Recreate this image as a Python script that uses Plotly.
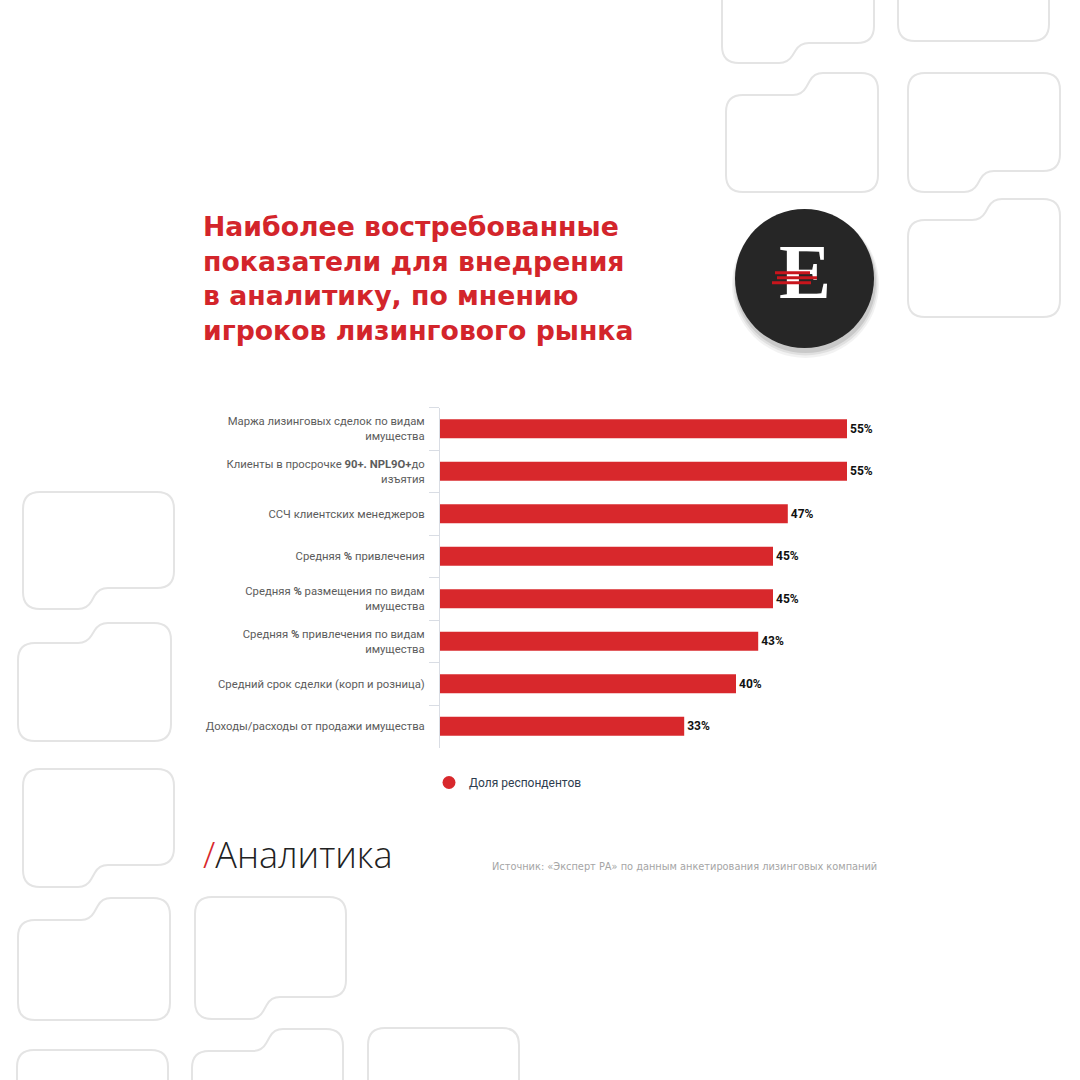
import plotly.graph_objects as go

# ---------------- data ----------------
categories = [
    "Маржа лизинговых сделок по видам<br>имущества",
    "Клиенты в просрочке <b>90+. NPL9O+</b>до<br>изъятия",
    "ССЧ клиентских менеджеров",
    "Средняя <b>%</b> привлечения",
    "Средняя <b>%</b> размещения по видам<br>имущества",
    "Средняя <b>%</b> привлечения по видам<br>имущества",
    "Средний срок сделки (корп и розница)",
    "Доходы/расходы от продажи имущества",
]
values = [55, 55, 47, 45, 45, 43, 40, 33]
series_name = "Доля респондентов"
title_lines = [
    "Наиболее востребованные",
    "показатели для внедрения",
    "в аналитику, по мнению",
    "игроков лизингового рынка",
]
brand_text = "Аналитика"
logo_letter = "E"
source_text = "Источник: «Эксперт РА» по данным анкетирования лизинговых компаний"

W = H = 1080
RED = "#d8282c"


def px(x):
    return x / W


def py(y):
    return 1 - y / H


# ---------------- decorative background shapes ----------------
def rounded_path(pts, radii):
    n = len(pts)
    out = []
    for i in range(n):
        p = pts[i]
        prv = pts[i - 1]
        nxt = pts[(i + 1) % n]
        vin = (p[0] - prv[0], p[1] - prv[1])
        vout = (nxt[0] - p[0], nxt[1] - p[1])
        lin = (vin[0] ** 2 + vin[1] ** 2) ** 0.5
        lout = (vout[0] ** 2 + vout[1] ** 2) ** 0.5
        r = min(radii[i], lin / 2, lout / 2)
        a = (p[0] - vin[0] / lin * r, p[1] - vin[1] / lin * r)
        b = (p[0] + vout[0] / lout * r, p[1] + vout[1] / lout * r)
        cmd = "M" if i == 0 else "L"
        out.append(f"{cmd}{px(a[0]):.5f},{py(a[1]):.5f}")
        out.append(f"Q{px(p[0]):.5f},{py(p[1]):.5f} {px(b[0]):.5f},{py(b[1]):.5f}")
    out.append("Z")
    return " ".join(out)


def tab_shape(x0, x1, ytl, ytr, ybl, ybr, xs=None, d=6, r=17, rs=9):
    pts, rad = [], []
    pts.append((x0, ytl)); rad.append(r)
    if ytl != ytr:
        pts += [(xs - d, ytl), (xs + d, ytr)]; rad += [rs, rs]
    pts.append((x1, ytr)); rad.append(r)
    pts.append((x1, ybr)); rad.append(r)
    if ybl != ybr:
        pts += [(xs + d, ybr), (xs - d, ybl)]; rad += [rs, rs]
    pts.append((x0, ybl)); rad.append(r)
    return rounded_path(pts, rad)


bg_shapes = [
    (722, 874, -100, -100, 63, 43, 794),
    (898, 1049, -100, -100, 41, 41, None),
    (726, 878, 95, 73, 192, 192, 808),
    (908, 1060, 73, 73, 192, 171, 979),
    (908, 1060, 220, 199, 317, 317, 987),
    (23, 174, 492, 492, 609, 588, 93),
    (18, 171, 643, 623, 741, 741, 93),
    (23, 174, 769, 769, 887, 865, 93),
    (18, 170, 920, 898, 1020, 1020, 96),
    (195, 346, 897, 897, 1019, 997, 265),
    (17, 168, 1050, 1050, 1200, 1200, None),
    (192, 343, 1051, 1029, 1200, 1200, 268),
    (368, 519, 1028, 1028, 1200, 1200, None),
]

shapes = []
for (x0, x1, ytl, ytr, ybl, ybr, xs) in bg_shapes:
    shapes.append(dict(
        type="path", xref="paper", yref="paper", layer="below",
        path=tab_shape(x0, x1, ytl, ytr, ybl, ybr, xs),
        line=dict(color="#e4e4e4", width=2), fillcolor="rgba(0,0,0,0)",
    ))

# ---------------- logo ----------------
cx, cy, cr = 804.5, 278.5, 69.5
for (dx, dy, extra, op) in [(1, 6, 4, 0.05), (1, 5, 2.5, 0.07), (1, 4, 1, 0.10)]:
    shapes.append(dict(
        type="circle", xref="paper", yref="paper", layer="below",
        x0=px(cx + dx - cr - extra), x1=px(cx + dx + cr + extra),
        y0=py(cy + dy + cr + extra), y1=py(cy + dy - cr - extra),
        fillcolor=f"rgba(0,0,0,{op})", line=dict(width=0),
    ))
shapes.append(dict(
    type="circle", xref="paper", yref="paper", layer="below",
    x0=px(cx - cr), x1=px(cx + cr), y0=py(cy + cr), y1=py(cy - cr),
    fillcolor="#262626", line=dict(width=0),
))
# red stripes across the logo letter (drawn above traces)
for (x0, x1, yy) in [(775, 810, 272.7), (777, 817, 277.7), (772, 811, 282.7)]:
    shapes.append(dict(
        type="line", xref="paper", yref="paper", layer="above",
        x0=px(x0), x1=px(x1), y0=py(yy), y1=py(yy),
        line=dict(color="#c8151c", width=3),
    ))

fig = go.Figure()

fig.add_trace(go.Bar(
    x=values, y=categories, orientation="h",
    marker=dict(color=RED, line=dict(width=0)),
    texttemplate="<b>%{x}%</b>", textposition="outside",
    textfont=dict(family="Roboto", size=12, color="#111111"),
    cliponaxis=False, showlegend=False, hoverinfo="skip",
))
fig.add_trace(go.Scatter(
    x=[None], y=[None], mode="markers", name=series_name,
    marker=dict(symbol="circle", size=13, color=RED),
    showlegend=True,
))
# logo letter as text mark on a pixel overlay axis
fig.add_trace(go.Scatter(
    x=[805], y=[278], mode="text", text=[logo_letter],
    textposition="middle center",
    textfont=dict(family="Liberation Serif", size=78, color="#ffffff", weight="bold"),
    xaxis="x2", yaxis="y2", showlegend=False, hoverinfo="skip",
    cliponaxis=False,
))

annotations = [
    dict(
        text="<br>".join(title_lines), x=px(201), y=py(209),
        xref="paper", yref="paper", xanchor="left", yanchor="top",
        align="left", showarrow=False,
        font=dict(family="DejaVu Sans", size=26.7, color="#d3252b", weight="bold"),
    ),
    dict(
        text=f"<span style='color:{RED}'>/</span>{brand_text}",
        x=px(201), y=py(854), xref="paper", yref="paper",
        xanchor="left", yanchor="middle", showarrow=False,
        font=dict(family="Open Sans", size=36, color="#222222", weight=300),
    ),
    dict(
        text=source_text, x=px(879), y=py(866), xref="paper", yref="paper",
        xanchor="right", yanchor="middle", showarrow=False,
        font=dict(family="DejaVu Sans", size=9.8, color="#a5a5a5"),
    ),
]

fig.update_layout(
    width=W, height=H,
    margin=dict(l=0, r=0, t=0, b=0),
    paper_bgcolor="#ffffff", plot_bgcolor="rgba(0,0,0,0)",
    bargap=0.55,
    xaxis=dict(
        domain=[px(440), px(884)], range=[0, 60],
        visible=False, fixedrange=True,
    ),
    yaxis=dict(
        domain=[py(747.5), py(407.5)], autorange="reversed",
        type="category", automargin=False,
        showline=True, linecolor="#d9dde4", linewidth=1,
        ticks="outside", tickson="boundaries", ticklen=10,
        tickcolor="#d9dde4", tickwidth=1, ticklabelstandoff=12,
        showgrid=False, zeroline=False,
        tickfont=dict(family="Roboto", size=11.3, color="#5c5c5c"),
    ),
    xaxis2=dict(domain=[0, 1], range=[0, W], visible=False, anchor="y2",
                fixedrange=True),
    yaxis2=dict(domain=[0, 1], range=[H, 0], visible=False, anchor="x2",
                fixedrange=True),
    legend=dict(
        x=px(429), y=py(768), xanchor="left", yanchor="top",
        orientation="h", bgcolor="rgba(0,0,0,0)",
        font=dict(family="Roboto", size=12, color="#2e3d4f"),
    ),
    shapes=shapes,
    annotations=annotations,
)

fig.write_html(
    "out.html",
    config={"displayModeBar": False},
    post_script="document.body.style.margin='0';document.body.style.padding='0';",
)
